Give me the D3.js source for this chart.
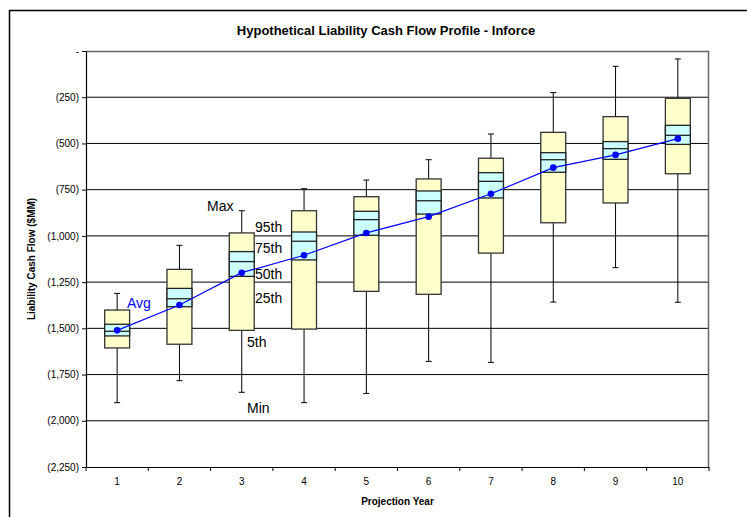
<!DOCTYPE html>
<html><head><meta charset="utf-8">
<script src="https://cdn.jsdelivr.net/npm/d3@7"></script>
<style>body{margin:0;background:#fff;}svg{display:block;font-family:"Liberation Sans",Arial,sans-serif;}</style>
</head><body>
<svg id="c" width="747" height="517"></svg>
<script>
const years = ["1","2","3","4","5","6","7","8","9","10"];
const maxV = [-1311,-1051,-864,-745,-698,-588,-449,-225,-83,-43];
const p95  = [-1401,-1181,-984,-864,-788,-692,-580,-440,-355,-256];
const p75  = [-1478,-1284,-1085,-979,-867,-757,-658,-550,-490,-402];
const p50  = [-1516,-1340,-1139,-1029,-912,-810,-705,-588,-528,-456];
const p25  = [-1541,-1383,-1219,-1130,-997,-882,-795,-656,-586,-505];
const p5   = [-1606,-1586,-1511,-1504,-1300,-1316,-1093,-929,-822,-664];
const minV = [-1902,-1783,-1846,-1902,-1852,-1679,-1684,-1358,-1172,-1359];
const avgV = [-1511,-1374,-1199,-1105,-984,-896,-772,-631,-562,-474];
const yTicks = [0,-250,-500,-750,-1000,-1250,-1500,-1750,-2000,-2250];

const svg = d3.select("#c");
const L=86, R=709, T=51, B=467;
const x = d3.scaleBand().domain(years).range([L,R]);
const y = d3.scaleLinear().domain([-2250,0]).range([B,T]);

// outer border
svg.append("path").attr("d","M9.5,520 V10.5 H750").attr("fill","none").attr("stroke","#000").attr("stroke-width",1.5);

// title
svg.append("text").attr("x",386).attr("y",35).attr("text-anchor","middle")
  .attr("font-size",13).attr("font-weight","bold").text("Hypothetical Liability Cash Flow Profile - Inforce");

// grid
svg.append("g").selectAll("line").data(yTicks.filter(d=>d!==0 && d!==-2250)).join("line")
  .attr("x1",L).attr("x2",R).attr("y1",d=>y(d)).attr("y2",d=>y(d)).attr("stroke","#000").attr("stroke-width",1);
// plot frame top & right
svg.append("path").attr("d",`M${L},${T+0.5} H${R-0.5} V${B}`).attr("fill","none").attr("stroke","#666").attr("stroke-width",1.5);

const fmt = d => d===0 ? "-" : "(" + d3.format(",")(-d) + ")";
const yAxis = svg.append("g").attr("transform",`translate(${L},0)`)
  .call(d3.axisLeft(y).tickValues(yTicks).tickFormat(fmt).tickSize(4).tickSizeOuter(0));
yAxis.select(".domain").attr("stroke","#000").attr("stroke-width",1.2);
yAxis.selectAll("text").attr("font-size",10).attr("fill","#000").attr("font-family","Liberation Sans, Arial, sans-serif");

const xAxis = svg.append("g").attr("transform",`translate(0,${B})`)
  .call(d3.axisBottom(x).tickSize(0).tickPadding(11));
xAxis.select(".domain").attr("stroke","#000").attr("stroke-width",1.2);
xAxis.selectAll("text").attr("font-size",10).attr("fill","#000").attr("font-family","Liberation Sans, Arial, sans-serif");
svg.append("g").selectAll("line").data(d3.range(years.length+1)).join("line")
  .attr("x1",i=>L+i*x.bandwidth()).attr("x2",i=>L+i*x.bandwidth())
  .attr("y1",B).attr("y2",B+4).attr("stroke","#000");

svg.append("text").attr("x",(L+R)/2).attr("y",505).attr("text-anchor","middle")
  .attr("font-size",10).attr("font-weight","bold").text("Projection Year");
svg.append("text").attr("transform",`translate(35,${(T+B)/2}) rotate(-90)`).attr("text-anchor","middle")
  .attr("font-size",10).attr("font-weight","bold").text("Liability Cash Flow ($MM)");

const bw = x.bandwidth()*0.4;
const cx = i => x(years[i]) + x.bandwidth()/2;
const idx = d3.range(years.length);
const g = svg.append("g");
// whiskers
g.selectAll(".wh").data(idx).join("line").attr("x1",cx).attr("x2",cx)
  .attr("y1",i=>y(maxV[i])).attr("y2",i=>y(minV[i])).attr("stroke","#000").attr("stroke-width",1);
g.selectAll(".capT").data(idx).join("line").attr("x1",i=>cx(i)-3).attr("x2",i=>cx(i)+3)
  .attr("y1",i=>y(maxV[i])).attr("y2",i=>y(maxV[i])).attr("stroke","#000").attr("stroke-width",1);
g.selectAll(".capB").data(idx).join("line").attr("x1",i=>cx(i)-3).attr("x2",i=>cx(i)+3)
  .attr("y1",i=>y(minV[i])).attr("y2",i=>y(minV[i])).attr("stroke","#000").attr("stroke-width",1);
// outer box
g.selectAll(".ob").data(idx).join("rect").attr("x",i=>cx(i)-bw/2).attr("width",bw)
  .attr("y",i=>y(p95[i])).attr("height",i=>y(p5[i])-y(p95[i]))
  .attr("fill","#FFFFCC").attr("stroke","#333").attr("stroke-width",1.3);
// inner box
g.selectAll(".ib").data(idx).join("rect").attr("x",i=>cx(i)-bw/2).attr("width",bw)
  .attr("y",i=>y(p75[i])).attr("height",i=>y(p25[i])-y(p75[i]))
  .attr("fill","#CCFFFF").attr("stroke","#222").attr("stroke-width",1.3);
g.selectAll(".med").data(idx).join("line").attr("x1",i=>cx(i)-bw/2).attr("x2",i=>cx(i)+bw/2)
  .attr("y1",i=>y(p50[i])).attr("y2",i=>y(p50[i])).attr("stroke","#222").attr("stroke-width",1.3);

// avg line
svg.append("path").datum(idx).attr("fill","none").attr("stroke","#0000FF").attr("stroke-width",1.2)
  .attr("d",d3.line().x(cx).y(i=>y(avgV[i])));
svg.append("g").selectAll("circle").data(idx).join("circle")
  .attr("cx",cx).attr("cy",i=>y(avgV[i])).attr("r",3.3).attr("fill","#0000FF");

// annotations
const ann = [["Max",207,211],["95th",255,232],["75th",255,253],["50th",255,279],["25th",255,303],["5th",247,347],["Min",247,413]];
svg.append("g").selectAll("text").data(ann).join("text").attr("x",d=>d[1]).attr("y",d=>d[2])
  .attr("font-size",14).attr("fill","#000").text(d=>d[0]);
svg.append("text").attr("x",127).attr("y",308).attr("font-size",14).attr("fill","#0000FF").text("Avg");
</script>
</body></html>
